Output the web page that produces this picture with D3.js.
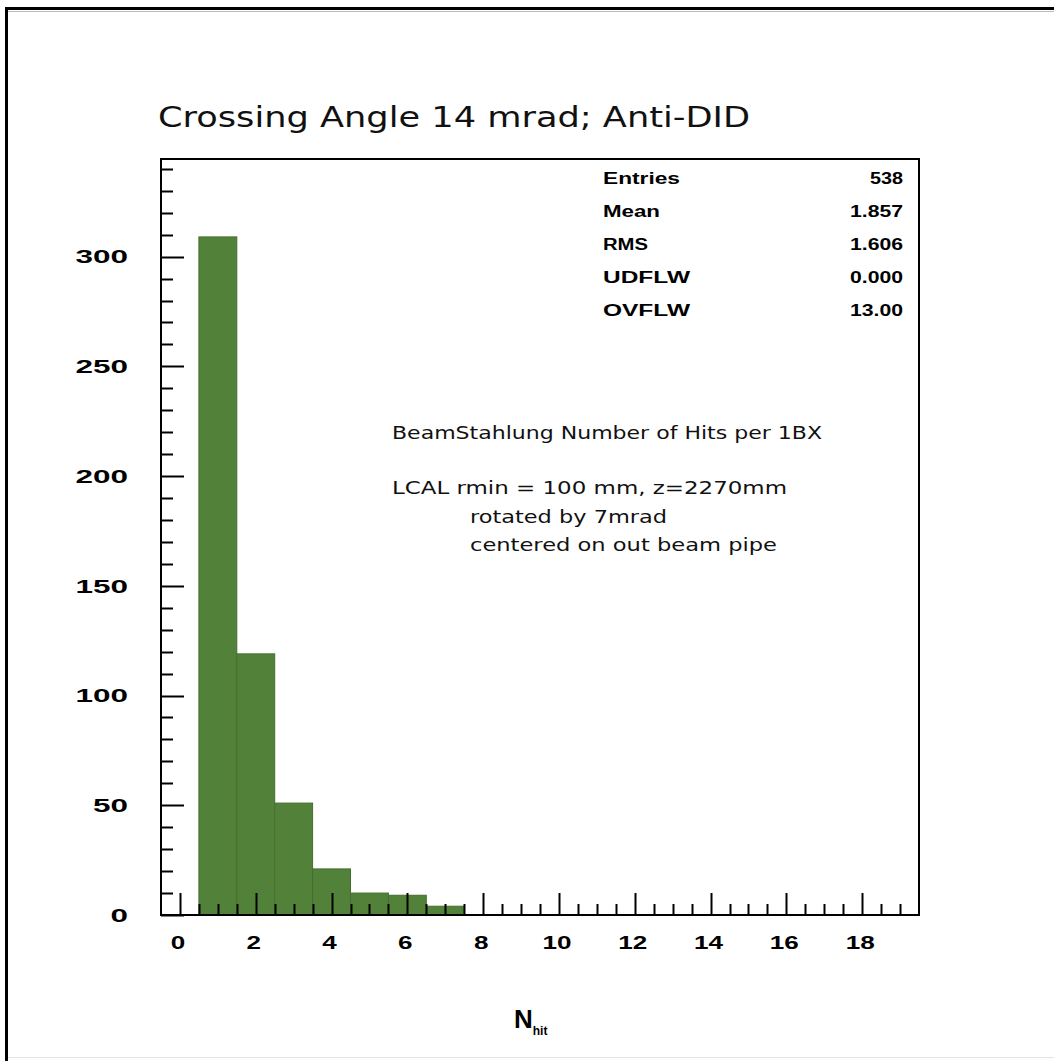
<!DOCTYPE html>
<html>
<head>
<meta charset="utf-8">
<script src="https://cdn.jsdelivr.net/npm/d3@7"></script>
<style>
  html, body { margin: 0; padding: 0; background: #fff; }
  svg { display: block; }
</style>
</head>
<body>
<script>
// Histogram of beamstrahlung hits per bunch crossing (unit-width bins centred on integers)
const binCenters = [0, 1, 2, 3, 4, 5, 6, 7, 8, 9, 10, 11, 12, 13, 14, 15, 16, 17, 18, 19];
const counts     = [0, 309, 119, 51, 21, 10, 9, 4, 0, 0, 0, 0, 0, 0, 0, 0, 0, 0, 0, 0];

const xTickLabels = [0, 2, 4, 6, 8, 10, 12, 14, 16, 18];
const yTickLabels = [0, 50, 100, 150, 200, 250, 300];

const statNames  = ["Entries", "Mean", "RMS", "UDFLW", "OVFLW"];
const statValues = ["538", "1.857", "1.606", "0.000", "13.00"];

const titleText = "Crossing Angle 14 mrad; Anti-DID";
const noteLines = [
  "BeamStahlung Number of Hits per 1BX",
  "LCAL rmin = 100 mm, z=2270mm",
  "rotated by 7mrad",
  "centered on out beam pipe"
];

const W = 1054, H = 1061;
const frame = { left: 161, right: 919, top: 159, bottom: 915 };

const svg = d3.select("body").append("svg")
  .attr("width", W).attr("height", H);

// canvas border
svg.append("line").attr("x1", 5).attr("x2", W).attr("y1", 8.5).attr("y2", 8.5)
  .attr("stroke", "#000").attr("stroke-width", 3);
svg.append("line").attr("x1", 5).attr("x2", W).attr("y1", 11.5).attr("y2", 11.5)
  .attr("stroke", "#bbb").attr("stroke-width", 1);
svg.append("line").attr("x1", 6.5).attr("x2", 6.5).attr("y1", 7).attr("y2", H)
  .attr("stroke", "#000").attr("stroke-width", 3);
svg.append("line").attr("x1", 8).attr("x2", W).attr("y1", 1057.5).attr("y2", 1057.5)
  .attr("stroke", "#e4e4e4").attr("stroke-width", 1);

const x = d3.scaleLinear().domain([-0.5, 19.5]).range([frame.left, frame.right]);
const y = d3.scaleLinear().domain([0, 344.5]).range([frame.bottom, frame.top]);

// histogram bars
svg.append("g").selectAll("rect")
  .data(binCenters.map((c, i) => ({ c, v: counts[i] })).filter(d => d.v > 0))
  .join("rect")
  .attr("x", d => x(d.c - 0.5))
  .attr("width", d => x(d.c + 0.5) - x(d.c - 0.5))
  .attr("y", d => y(d.v))
  .attr("height", d => y(0) - y(d.v))
  .attr("fill", "#52823a")
  .attr("stroke", "#456e30")
  .attr("stroke-width", 1);

// y axis ticks (inside the frame)
const yMinor = d3.range(0, 345, 10);
svg.append("g").selectAll("line")
  .data(yMinor)
  .join("line")
  .attr("x1", frame.left)
  .attr("x2", d => frame.left + (d % 50 === 0 ? 23 : 12))
  .attr("y1", d => Math.round(y(d)) + 0.5)
  .attr("y2", d => Math.round(y(d)) + 0.5)
  .attr("stroke", "#000").attr("stroke-width", 2);

svg.append("g").selectAll("text")
  .data(yTickLabels)
  .join("text")
  .attr("x", 128)
  .attr("y", d => y(d))
  .attr("dy", "0.36em")
  .attr("text-anchor", "end")
  .attr("font-family", "Liberation Sans, Arial, sans-serif")
  .attr("font-weight", "bold")
  .attr("font-size", 19)
  .attr("textLength", d => String(d).length * 17.5)
  .attr("lengthAdjust", "spacingAndGlyphs")
  .text(d => d);

// x axis ticks (inside the frame)
const xMinor = d3.range(0, 19.01, 0.5);
svg.append("g").selectAll("line")
  .data(xMinor)
  .join("line")
  .attr("x1", d => Math.round(x(d)) + 0.5)
  .attr("x2", d => Math.round(x(d)) + 0.5)
  .attr("y1", frame.bottom)
  .attr("y2", d => frame.bottom - (d % 2 === 0 ? 22 : 11))
  .attr("stroke", "#000").attr("stroke-width", 2);

svg.append("g").selectAll("text")
  .data(xTickLabels)
  .join("text")
  .attr("x", d => x(d) - 2)
  .attr("y", 942)
  .attr("dy", "0.36em")
  .attr("text-anchor", "middle")
  .attr("font-family", "Liberation Sans, Arial, sans-serif")
  .attr("font-weight", "bold")
  .attr("font-size", 19)
  .attr("textLength", d => String(d).length * 14.5)
  .attr("lengthAdjust", "spacingAndGlyphs")
  .text(d => d);

// frame
svg.append("rect")
  .attr("x", frame.left).attr("y", frame.top)
  .attr("width", frame.right - frame.left)
  .attr("height", frame.bottom - frame.top)
  .attr("fill", "none").attr("stroke", "#000").attr("stroke-width", 2);

// title
svg.append("text")
  .attr("x", 158).attr("y", 127)
  .attr("font-family", "DejaVu Sans, sans-serif")
  .attr("font-size", 29)
  .attr("fill", "#111")
  .attr("textLength", 592)
  .attr("lengthAdjust", "spacingAndGlyphs")
  .text(titleText);

// statistics box
const statY = d3.scaleLinear().domain([0, 4]).range([178, 310]);
const stats = svg.append("g")
  .attr("font-family", "Liberation Sans, Arial, sans-serif")
  .attr("font-weight", "bold")
  .attr("font-size", 16);
const nameW = [77, 57, 45, 87, 87];
const valW = [33, 53, 53, 53, 53];
stats.selectAll("text.name")
  .data(statNames)
  .join("text")
  .attr("class", "name")
  .attr("x", 603)
  .attr("y", (d, i) => statY(i))
  .attr("dy", "0.36em")
  .attr("textLength", (d, i) => nameW[i])
  .attr("lengthAdjust", "spacingAndGlyphs")
  .text(d => d);
stats.selectAll("text.val")
  .data(statValues)
  .join("text")
  .attr("class", "val")
  .attr("x", 903)
  .attr("y", (d, i) => statY(i))
  .attr("dy", "0.36em")
  .attr("text-anchor", "end")
  .attr("textLength", (d, i) => valW[i])
  .attr("lengthAdjust", "spacingAndGlyphs")
  .text(d => d);

// annotation
const noteX = [392, 392, 470, 470];
const noteYs = [433, 488, 517, 545];
const noteW = [430, 395, 197, 307];
svg.append("g")
  .attr("font-family", "DejaVu Sans, sans-serif")
  .attr("font-size", 17)
  .attr("fill", "#111")
  .selectAll("text")
  .data(noteLines)
  .join("text")
  .attr("x", (d, i) => noteX[i])
  .attr("y", (d, i) => noteYs[i])
  .attr("dy", "0.36em")
  .attr("textLength", (d, i) => noteW[i])
  .attr("lengthAdjust", "spacingAndGlyphs")
  .text(d => d);

// x-axis title
const xt = svg.append("text")
  .attr("x", 514).attr("y", 1028)
  .attr("font-family", "Liberation Sans, Arial, sans-serif")
  .attr("font-weight", "bold")
  .attr("font-size", 26);
xt.append("tspan").text("N");
xt.append("tspan").attr("font-size", 12).attr("dy", 7).text("hit");
</script>
</body>
</html>
